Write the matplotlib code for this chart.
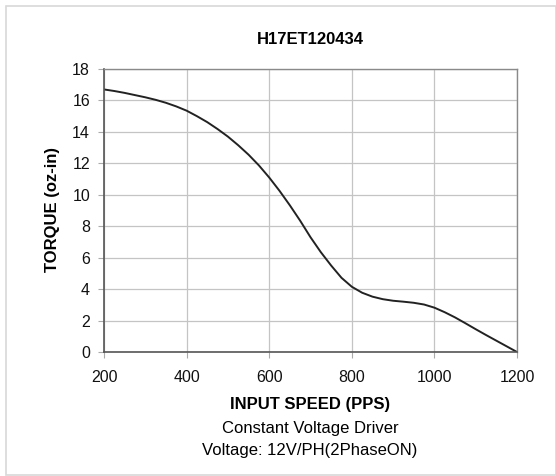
"""torque curve H17ET120434"""
import matplotlib
matplotlib.use('Agg')
import matplotlib.pyplot as plt
from matplotlib.patches import Rectangle

plt.rcParams['font.family'] = ['Liberation Sans', 'DejaVu Sans']

speed = [200, 225, 250, 275, 300, 325, 350, 375, 400, 425, 450, 475, 500, 525,
         550, 575, 600, 625, 650, 675, 700, 725, 750, 775, 800, 825, 850, 875,
         900, 925, 950, 975, 1000, 1025, 1050, 1075, 1100, 1125, 1150, 1175, 1200]
torque = [16.70, 16.60, 16.48, 16.34, 16.20, 16.04, 15.85, 15.62, 15.35, 15.00,
          14.62, 14.18, 13.70, 13.15, 12.55, 11.87, 11.10, 10.25, 9.33, 8.35,
          7.30, 6.35, 5.50, 4.72, 4.15, 3.77, 3.52, 3.36, 3.26, 3.20, 3.13, 3.02,
          2.82, 2.53, 2.20, 1.83, 1.45, 1.08, 0.72, 0.36, 0.0]

xticks = [200, 400, 600, 800, 1000, 1200]
yticks = [0, 2, 4, 6, 8, 10, 12, 14, 16, 18]

W, H = 556, 476
fig = plt.figure(figsize=(W / 100, H / 100), dpi=100)
# axes box in pixels: left 104, right 517, top 69, bottom 352
ax = fig.add_axes([104 / W, 1 - 352 / H, (517 - 104) / W, (352 - 69) / H])

# outer light frame
fig.patches.append(Rectangle((6 / W, 1 / H), (W - 6) / W, (470 - 1) / H,
                             transform=fig.transFigure, fill=False,
                             edgecolor='#d8d8d8', linewidth=1.2))

ax.plot(speed, torque, color='#222222', linewidth=1.4, solid_joinstyle='round')

ax.set_xlim(200, 1200)
ax.set_ylim(0, 18)
ax.set_xticks(xticks)
ax.set_yticks(yticks)
ax.grid(True, color='#c4c4c4', linewidth=0.9)
ax.set_axisbelow(True)
ax.tick_params(axis='both', labelsize=11.5, length=4, width=0.8, color='#aaaaaa',
               labelcolor='#111111')
ax.tick_params(axis='x', pad=9)
ax.tick_params(axis='y', pad=6)

for side in ['top', 'right']:
    ax.spines[side].set_color('#8a8a8a')
    ax.spines[side].set_linewidth(1.0)
for side in ['left', 'bottom']:
    ax.spines[side].set_color('#555555')
    ax.spines[side].set_linewidth(1.2)

fig.text(52 / W, 1 - 210 / H, 'TORQUE (oz-in)', fontsize=12, fontweight='bold',
         rotation=90, ha='center', va='center')
fig.text(310 / W, 1 - 40 / H, 'H17ET120434', fontsize=12, fontweight='bold',
         ha='center', va='center')
fig.text(310 / W, 1 - 405 / H, 'INPUT SPEED (PPS)', fontsize=12, fontweight='bold',
         ha='center', va='center')
fig.text(310 / W, 1 - 428 / H, 'Constant Voltage Driver', fontsize=12,
         ha='center', va='center')
fig.text(310 / W, 1 - 450 / H, 'Voltage: 12V/PH(2PhaseON)', fontsize=12,
         ha='center', va='center')

fig.savefig('out.png', dpi=100, facecolor='white')
